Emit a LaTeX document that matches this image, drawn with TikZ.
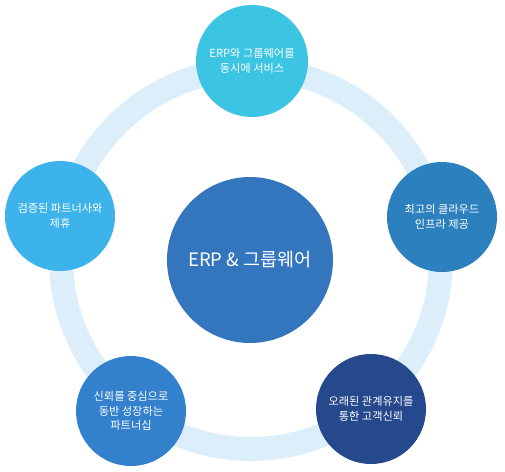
\documentclass[tikz,border=0pt]{standalone}
\usepackage{fontspec}
\setmainfont{Noto Sans CJK KR}
\usepackage{xcolor}
\definecolor{ringblue}{RGB}{221,238,251}
\definecolor{hubblue}{RGB}{51,118,190}
\definecolor{cyanblue}{RGB}{60,196,227}
\definecolor{skyblue}{RGB}{60,180,235}
\definecolor{steelblue}{RGB}{45,128,190}
\definecolor{midblue}{RGB}{51,128,204}
\definecolor{navyblue}{RGB}{38,72,140}

\begin{document}
\begin{tikzpicture}[
  x=1pt, y=-1pt,
  hub/.style={circle, fill=hubblue, text=white, minimum size=166pt, inner sep=0pt,
    font=\fontsize{18.5}{22}\selectfont},
  spoke/.style={circle, text=white, minimum size=110pt, inner sep=0pt, align=center,
    font=\fontsize{11.2}{14.5}\selectfont},
  ring/.style={draw=ringblue, line width=24pt},
]
\useasboundingbox (0,0) rectangle (505,471);

% --- Ring ---
\coordinate (ctr) at (251,259);
\draw[ring] (ctr) circle (190pt);

% --- Centre ---
\node[hub] (erp) at (250,260) {ERP \& 그룹웨어};

% --- Outer circles ---
\node[spoke, fill=cyanblue, minimum size=112pt] (serve) at (252,61) {ERP와 그룹웨어를\\동시에 서비스};
\node[spoke, fill=steelblue] (cloud) at (442,217) {최고의 클라우드\\인프라 제공};
\node[spoke, fill=navyblue] (trust) at (371,409) {오래된 관계유지를\\통한 고객신뢰};
\node[spoke, fill=midblue] (growth) at (131,411) {신뢰를 중심으로\\동반 성장하는\\파트너십};
\node[spoke, fill=skyblue] (partner) at (60,216) {검증된 파트너사와\\제휴};

\end{tikzpicture}
\end{document}
